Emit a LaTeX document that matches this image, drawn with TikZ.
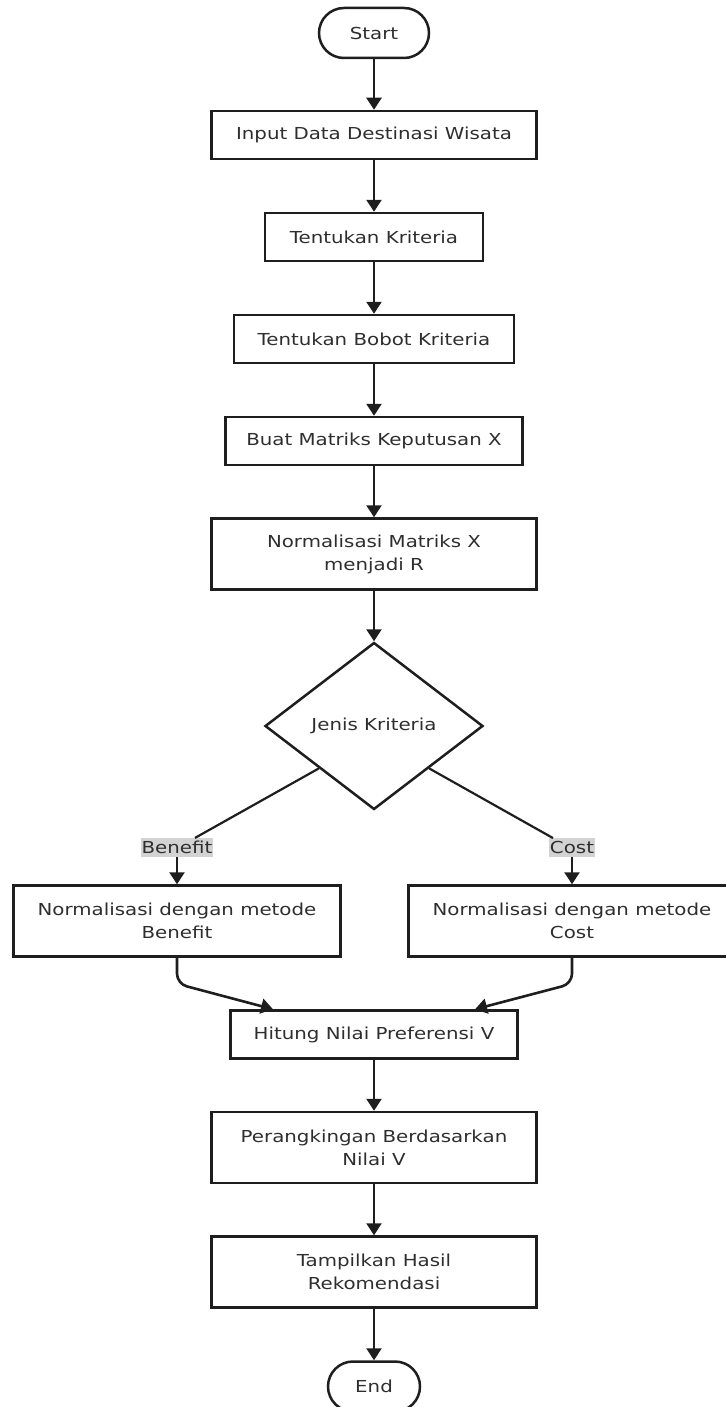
\documentclass[tikz,border=0pt]{standalone}
\usepackage{fontspec}
\setmainfont[FakeStretch=1.2]{DejaVu Sans}
\usetikzlibrary{arrows.meta,shapes.geometric}
\definecolor{edgegray}{HTML}{1E1E1E}
\definecolor{textgray}{HTML}{2E2E2E}
\definecolor{labelgray}{HTML}{D3D3D3}
\newcommand{\boxfont}{\fontsize{16.5}{23}\selectfont}

\begin{document}
\begin{tikzpicture}[node distance=102pt, auto]
  % Define styles
  \tikzstyle{terminal}=[rectangle, rounded corners=25pt, draw=edgegray, line width=2.5pt, text=textgray, minimum height=50pt, font=\boxfont]
  \tikzstyle{process}=[rectangle, draw=edgegray, line width=2.5pt, text=textgray, align=center, minimum height=48pt, font=\boxfont]
  \tikzstyle{twoline}=[process, minimum height=71pt]
  \tikzstyle{decision}=[diamond, draw=edgegray, line width=2.5pt, text=textgray, minimum width=218pt, minimum height=167pt, inner sep=0pt, font=\boxfont]
  \tikzstyle{branchlabel}=[rectangle, fill=labelgray, text=textgray, inner xsep=1pt, inner ysep=3pt, font=\boxfont]
  \tikzstyle{flow}=[-{Triangle[length=12pt,width=15pt]}, line width=2.6pt, color=edgegray]
  \tikzstyle{link}=[line width=2.2pt, color=edgegray]

  \useasboundingbox (0pt,0pt) rectangle (725pt,-1407pt);

  % Steps
  \node[terminal, minimum width=110pt] (start) at (374pt,-33pt) {Start};
  \node[process, below of=start, minimum width=325pt] (input) {Input Data Destinasi Wisata};
  \node[process, below of=input, minimum width=218pt] (kriteria) {Tentukan Kriteria};
  \node[process, below of=kriteria, minimum width=280pt] (bobot) {Tentukan Bobot Kriteria};
  \node[process, below of=bobot, minimum width=297pt] (matriks) {Buat Matriks Keputusan X};
  \node[twoline, below of=matriks, node distance=113pt, minimum width=325pt] (normal) {Normalisasi Matriks X\\menjadi R};
  \node[decision, below of=normal, node distance=172pt] (jenis) {Jenis Kriteria};

  % Branches
  \node[branchlabel, below of=jenis, node distance=121.5pt, xshift=-197pt] (benefit) {Benefit};
  \node[branchlabel, below of=jenis, node distance=121.5pt, xshift=198pt] (cost) {Cost};
  \node[twoline, below of=benefit, node distance=73.5pt, minimum width=327pt] (nbenefit) {Normalisasi dengan metode\\Benefit};
  \node[twoline, below of=cost, node distance=73.5pt, minimum width=327pt] (ncost) {Normalisasi dengan metode\\Cost};

  \node[process, below of=jenis, node distance=308.5pt, minimum width=287pt] (hitung) {Hitung Nilai Preferensi V};
  \node[twoline, below of=hitung, node distance=113pt, minimum width=325pt] (ranking) {Perangkingan Berdasarkan\\Nilai V};
  \node[twoline, below of=ranking, node distance=124.5pt, minimum width=325pt] (hasil) {Tampilkan Hasil\\Rekomendasi};
  \node[terminal, below of=hasil, node distance=114.5pt, minimum width=92pt] (end) {End};

  % Arrows
  \draw[flow] (start) -- (input);
  \draw[flow] (input) -- (kriteria);
  \draw[flow] (kriteria) -- (bobot);
  \draw[flow] (bobot) -- (matriks);
  \draw[flow] (matriks) -- (normal);
  \draw[flow] (normal) -- (jenis);
  \draw[link] (jenis.south west) -- ([xshift=18pt]benefit.north);
  \draw[link] (jenis.south east) -- ([xshift=-19pt]cost.north);
  \draw[flow] (benefit) -- (nbenefit);
  \draw[flow] (cost) -- (ncost);
  \draw[flow, rounded corners=10pt] (nbenefit.south) -- ++(0pt,-26pt) -- ([xshift=-101pt]hitung.north);
  \draw[flow, rounded corners=10pt] (ncost.south) -- ++(0pt,-26pt) -- ([xshift=101pt]hitung.north);
  \draw[flow] (hitung) -- (ranking);
  \draw[flow] (ranking) -- (hasil);
  \draw[flow] (hasil) -- (end);
\end{tikzpicture}
\end{document}
